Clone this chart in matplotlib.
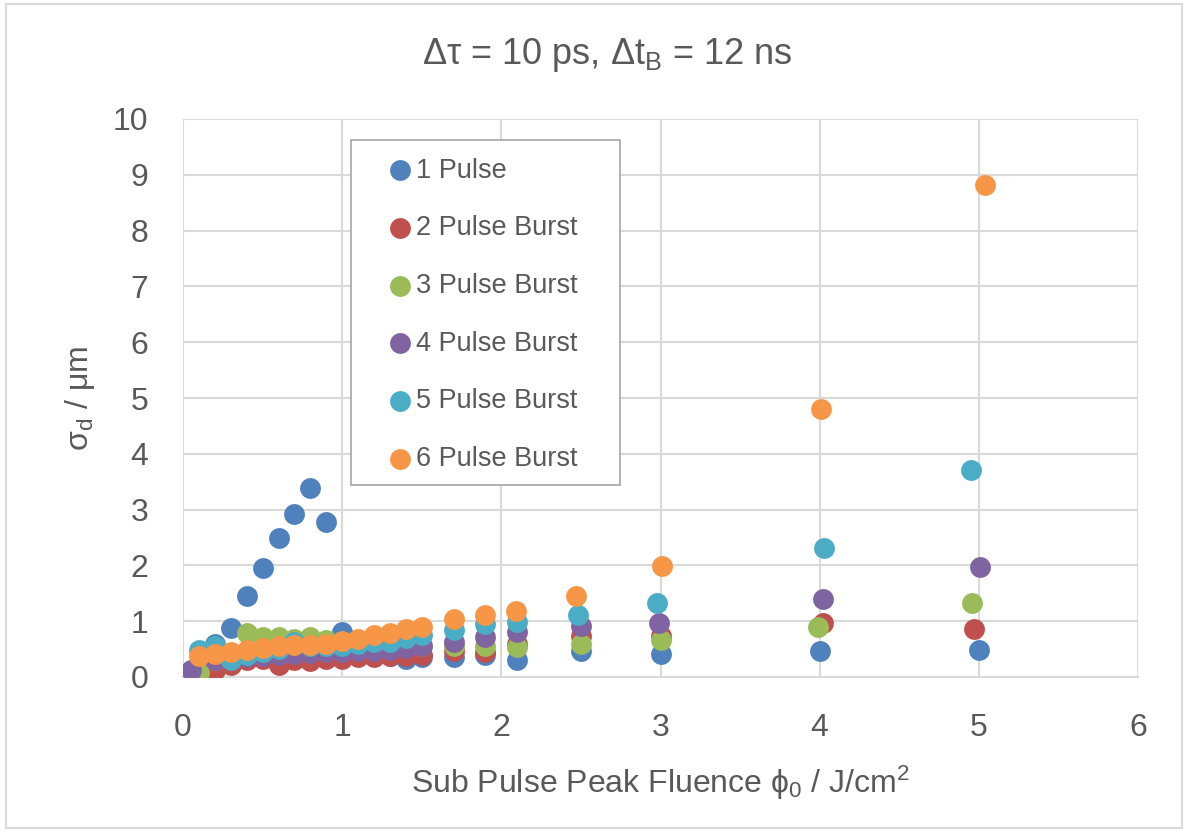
import matplotlib
matplotlib.use("Agg")
import matplotlib.pyplot as plt
from matplotlib.patches import Rectangle

plt.rcParams['font.family'] = ['Liberation Sans', 'DejaVu Sans']
plt.rcParams['mathtext.fontset'] = 'custom'
plt.rcParams['mathtext.rm'] = 'Liberation Sans'
plt.rcParams['mathtext.it'] = 'Liberation Sans'

title = "Δτ = 10 ps, Δt$_\\mathregular{B}$ = 12 ns"
xlabel = "Sub Pulse Peak Fluence ϕ$_\\mathregular{0}$ / J/cm$^\\mathregular{2}$"
ylabel = "σ$_\\mathregular{d}$ / μm"

names = ["1 Pulse", "2 Pulse Burst", "3 Pulse Burst", "4 Pulse Burst", "5 Pulse Burst", "6 Pulse Burst"]
colors = ["#4F81BD", "#C0504D", "#9BBB59", "#8064A2", "#4BACC6", "#F79646"]

x1 = [0.1, 0.2, 0.3, 0.4, 0.5, 0.6, 0.7, 0.8, 0.9, 1.0, 1.1, 1.2, 1.3, 1.4, 1.5, 1.7, 1.9, 2.1, 2.5, 3.0, 4.0, 5.0]
y1 = [0.1, 0.6, 0.88, 1.45, 1.95, 2.5, 2.93, 3.38, 2.78, 0.8, 0.4, 0.37, 0.38, 0.33, 0.35, 0.36, 0.4, 0.3, 0.46, 0.42, 0.47, 0.48]

x2 = [0.1, 0.2, 0.3, 0.4, 0.5, 0.6, 0.7, 0.8, 0.9, 1.0, 1.1, 1.2, 1.3, 1.4, 1.5, 1.7, 1.9, 2.1, 2.5, 3.0, 4.02, 4.97]
y2 = [0.08, 0.12, 0.22, 0.3, 0.32, 0.22, 0.3, 0.28, 0.32, 0.33, 0.35, 0.36, 0.38, 0.38, 0.4, 0.47, 0.45, 0.6, 0.73, 0.74, 0.97, 0.86]

x3 = [0.1, 0.2, 0.3, 0.4, 0.5, 0.6, 0.7, 0.8, 0.9, 1.0, 1.1, 1.2, 1.3, 1.4, 1.5, 1.7, 1.9, 2.1, 2.5, 3.0, 3.99, 4.96]
y3 = [0.07, 0.3, 0.4, 0.79, 0.72, 0.72, 0.68, 0.72, 0.66, 0.62, 0.6, 0.58, 0.55, 0.55, 0.55, 0.55, 0.55, 0.54, 0.6, 0.66, 0.9, 1.33]

x4 = [0.05, 0.2, 0.3, 0.4, 0.5, 0.6, 0.7, 0.8, 0.9, 1.0, 1.1, 1.2, 1.3, 1.4, 1.5, 1.7, 1.9, 2.1, 2.5, 2.99, 4.02, 5.01]
y4 = [0.13, 0.3, 0.32, 0.35, 0.38, 0.4, 0.42, 0.43, 0.45, 0.45, 0.46, 0.47, 0.48, 0.52, 0.55, 0.62, 0.72, 0.8, 0.92, 0.97, 1.4, 1.97]

x5 = [0.1, 0.2, 0.3, 0.4, 0.5, 0.6, 0.7, 0.8, 0.9, 1.0, 1.1, 1.2, 1.3, 1.4, 1.5, 1.7, 1.9, 2.1, 2.48, 2.98, 4.03, 4.95]
y5 = [0.48, 0.55, 0.3, 0.4, 0.45, 0.5, 0.62, 0.55, 0.55, 0.55, 0.6, 0.62, 0.63, 0.7, 0.75, 0.84, 0.95, 0.99, 1.11, 1.33, 2.31, 3.71]

x6 = [0.1, 0.2, 0.3, 0.4, 0.5, 0.6, 0.7, 0.8, 0.9, 1.0, 1.1, 1.2, 1.3, 1.4, 1.5, 1.7, 1.9, 2.09, 2.47, 3.01, 4.01, 5.04]
y6 = [0.37, 0.42, 0.45, 0.48, 0.52, 0.55, 0.57, 0.58, 0.6, 0.64, 0.68, 0.75, 0.79, 0.86, 0.9, 1.04, 1.11, 1.18, 1.45, 1.99, 4.81, 8.82]

xs = [x1, x2, x3, x4, x5, x6]
ys = [y1, y2, y3, y4, y5, y6]

xticks = [0, 1, 2, 3, 4, 5, 6]
yticks = [0, 1, 2, 3, 4, 5, 6, 7, 8, 9, 10]

W, H = 1188, 832
fig = plt.figure(figsize=(W/100, H/100), dpi=100)
L, R, T, B = 183, 1138, 119, 677
ax = fig.add_axes([L/W, 1-B/H, (R-L)/W, (B-T)/H])

grid_c = "#D9D9D9"
text_c = "#595959"

for x, y, c, n in zip(xs, ys, colors, names):
    ax.scatter(x, y, s=225, color=c, label=n, zorder=3, linewidths=0)

ax.set_xlim(0, 6)
ax.set_ylim(0, 10)
ax.set_xticks(xticks)
ax.set_yticks(yticks)
ax.grid(True, color=grid_c, linewidth=1.5, zorder=0)
ax.set_axisbelow(True)
for s in ["top", "right", "left"]:
    ax.spines[s].set_visible(False)
ax.spines["bottom"].set_color(grid_c)
ax.spines["bottom"].set_linewidth(1.5)
ax.tick_params(axis='both', length=0, labelsize=23, colors=text_c)
ax.tick_params(axis='x', pad=26)
ax.tick_params(axis='y', pad=25)

ax.set_xlabel(xlabel, fontsize=23, color=text_c)
ax.set_ylabel(ylabel, fontsize=23, color=text_c)
ax.xaxis.set_label_coords((660-L)/(R-L), (B-783)/(B-T))
ax.xaxis.label.set_va('center')
ax.yaxis.set_label_coords((80-L)/(R-L), 0.5)
ax.yaxis.label.set_va('center')

fig.text(607/W, 1-55/H, title, ha='center', va='center', fontsize=26, color=text_c)

# legend box (frame drawn separately to match padding)
lx0, lx1, ly0, ly1 = 351, 620, 140, 485
box = Rectangle((lx0/W, 1-ly1/H), (lx1-lx0)/W, (ly1-ly0)/H, transform=fig.transFigure,
                facecolor="white", edgecolor="#A6A6A6", linewidth=1.2, zorder=4, clip_on=False)
ax.add_patch(box)
leg = ax.legend(loc='upper left', bbox_to_anchor=((lx0-L)/(R-L), 1-(ly0-T)/(B-T) - 4/(B-T)),
                borderaxespad=0, fontsize=19.5, frameon=False,
                handlelength=2.6, handletextpad=-0.7,
                labelspacing=1.17, borderpad=0.5, scatterpoints=1)
leg.set_zorder(5)
for t in leg.get_texts():
    t.set_color(text_c)

fig.patches.append(Rectangle((6/W, 4/H), 1176/W, 824/H, transform=fig.transFigure,
                             fill=False, edgecolor="#D9D9D9", linewidth=1.5))

fig.savefig("out.png", dpi=100)
